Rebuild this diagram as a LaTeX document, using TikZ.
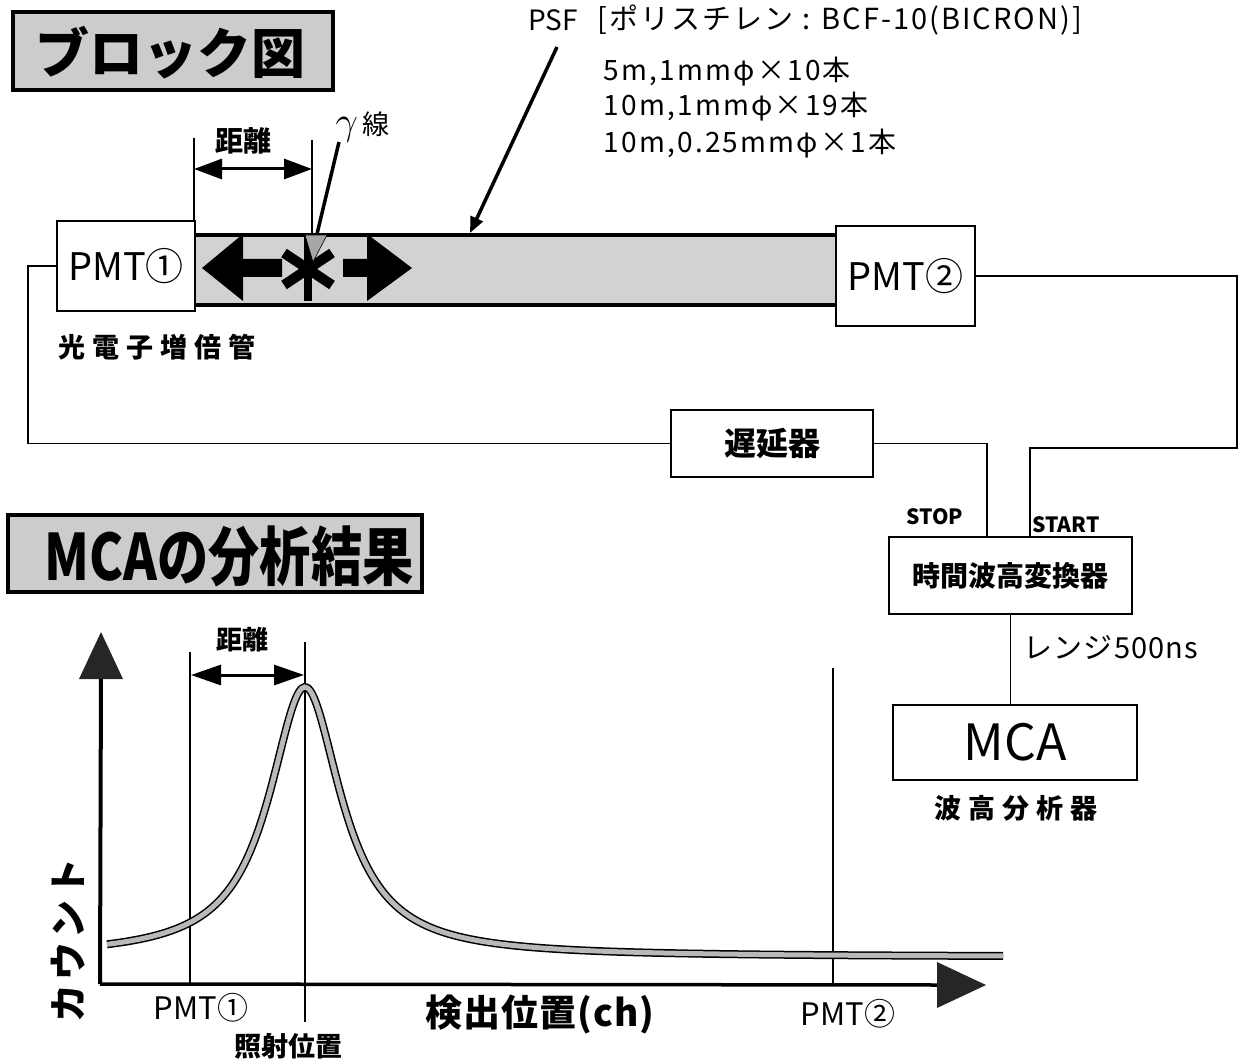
\documentclass[tikz,border=0pt]{standalone}
\usepackage{fontspec}
\setmainfont{Noto Sans CJK JP}
\usepackage{graphicx}
\usetikzlibrary{arrows.meta}
\begin{document}
\begin{tikzpicture}[x=1pt,y=-1pt,
  fs/.style={font=\fontsize{#1}{#1}\selectfont},
  fsb/.style={font=\fontsize{#1}{#1}\selectfont\bfseries},
  title/.style={draw, line width=4pt, fill=gray!40, inner sep=0pt},
  box/.style={draw, line width=2.8pt, fill=white, inner sep=0pt},
  wire/.style={line width=1.8pt},
  thinl/.style={line width=1.4pt},
  dim/.style={line width=3pt, {Triangle[length=28pt,width=20pt]}-{Triangle[length=28pt,width=20pt]}},
  bigarrow/.style={fill=black},
  curveo/.style={line width=8pt, black},
  curvei/.style={line width=5pt, gray!55}
]
\useasboundingbox (0,0) rectangle (1241,1064);

% ---------- titles ----------
\node[title, minimum width=320pt, minimum height=78pt] (t1) at (173,51) {};
\node[fsb=54] (t1t) at (170,53) {ブロック図};
\node[title, minimum width=414pt, minimum height=77pt] (t2) at (215,553.5) {};
\node[fsb=64] (t2t) at (229,556) {\scalebox{0.8}[1]{MCAの分析結果}};

% ---------- fibre ----------
\node[draw, line width=3.5pt, fill=gray!35, minimum width=643pt, minimum height=70pt, inner sep=0pt] (fiber) at (515.5,270) {};

% big arrows and asterisk
\fill[bigarrow] (202,268) -- (243,234) -- (243,259) -- (282,259) -- (282,277) -- (243,277) -- (243,301) -- cycle;
\fill[bigarrow] (412,268) -- (367,234) -- (367,259) -- (343,259) -- (343,277) -- (367,277) -- (367,301) -- cycle;
\draw[line width=8pt] (308,237) -- (308,301);
\draw[line width=10pt] (284,253) -- (332,285);
\draw[line width=10pt] (284,285) -- (332,253);
\fill[gray!70, draw=black, line width=0.6pt] (305,235) -- (327,235) -- (313,262) -- cycle;

% PMT boxes
\node[box, minimum width=138pt, minimum height=90pt, fs=38] (pmt1) at (126,266) {PMT①};
\node[box, minimum width=139pt, minimum height=100pt, fs=38] (pmt2) at (905.5,276) {PMT②};
\node[fsb=27] (pmtlbl) at (157,347) {光\hspace{7pt}電\hspace{7pt}子\hspace{7pt}増\hspace{7pt}倍\hspace{7pt}管};

% distance on fibre
\coordinate (d1a) at (194,138);
\coordinate (d1b) at (194,220);
\coordinate (d2a) at (312,140);
\coordinate (d2b) at (312,235);
\draw[thinl] (d1a) -- (d1b);
\draw[thinl] (d2a) -- (d2b);
\draw[dim] (194,169) -- (312,169);
\node[fsb=28] (dist1) at (243,141) {距離};

% gamma pointer
\node[fs=27, anchor=west] (gam) at (332,127) {\scalebox{1.6}{$\gamma$}\,線};
\coordinate (gtop) at (339,142);
\coordinate (gbot) at (317,234);
\draw[line width=3.5pt] (gtop) -- (gbot);

% PSF
\node[fs=28] (psf) at (553,20) {PSF};
\node[anchor=west, font=\fontsize{29}{29}\selectfont\addfontfeature{LetterSpace=7}] (psfdesc) at (594,20) {[ポリスチレン : BCF-10(BICRON)]};
\node[anchor=west, font=\fontsize{28}{28}\selectfont\addfontfeature{LetterSpace=8}] (l1) at (600,72) {5m,1mmφ×10本};
\node[anchor=west, font=\fontsize{28}{28}\selectfont\addfontfeature{LetterSpace=8}] (l2) at (600,107) {10m,1mmφ×19本};
\node[anchor=west, font=\fontsize{28}{28}\selectfont\addfontfeature{LetterSpace=8}] (l3) at (600,144) {10m,0.25mmφ×1本};
\coordinate (psfs) at (557,47);
\coordinate (psftip) at (470,233);
\draw[line width=3.5pt, -{Triangle[length=16pt,width=13pt]}] (psfs) -- (psftip);

% ---------- electronics ----------
\node[box, minimum width=202pt, minimum height=67pt, fsb=32] (delay) at (772,443.5) {遅延器};
\node[box, minimum width=243pt, minimum height=77pt, fsb=28] (tac) at (1010.5,575.5) {時間波高変換器};
\node[box, minimum width=244pt, minimum height=75pt, fs=50] (mca) at (1015,742.5) {MCA};
\node[fsb=27] (mcalbl) at (1016,808) {波\hspace{7pt}高\hspace{7pt}分\hspace{7pt}析\hspace{7pt}器};
\node[fsb=21] (stop) at (935,517) {STOP};
\node[fsb=21, anchor=west] (start) at (1029,525) {START};
\node[anchor=west, font=\fontsize{29}{29}\selectfont\addfontfeature{LetterSpace=4}] (range) at (1020,647) {レンジ500ns};

\coordinate (lc) at (28,266);
\coordinate (stopin) at (987,537);
\coordinate (rc) at (1237,276);
\coordinate (rc2) at (1237,448);
\coordinate (startc) at (1030,448);
\coordinate (startin) at (1030,537);

\draw[wire] (pmt1.west) -- (lc) |- (delay.west);
\draw[wire] (delay.east) -| (stopin);
\draw[wire] (pmt2.east) -- (rc) -- (rc2) -- (startc) -- (startin);
\draw[wire] (tac.south) -- (tac.south |- mca.north);

% ---------- graph ----------
\coordinate (o) at (100,984);
\coordinate (ytip) at (101,632);
\coordinate (xtip) at (986,985);
\draw[line width=4pt] (o) -- (101,670);
\draw[line width=3.5pt] (o) -- (940,985);
\fill[black!85] (ytip) -- (123,679) -- (79,679) -- cycle;
\fill[black!85] (xtip) -- (937,962) -- (937,1008) -- cycle;

\draw[thinl] (190,652) -- (190,984);
\draw[thinl] (305,642) -- (305,1022);
\draw[thinl] (833,668) -- (833,984);
\draw[line width=3pt, {Triangle[length=30pt,width=20pt]}-{Triangle[length=30pt,width=20pt]}] (191,675) -- (304,675);
\node[fsb=26] (dist2) at (242,640) {距離};

\draw[curveo] plot[domain=107:1003, samples=300, smooth] (\x, {957 - 270/(1+((\x-305)/44)^2)});
\draw[curvei] plot[domain=107:1003, samples=300, smooth] (\x, {957 - 270/(1+((\x-305)/44)^2)});

\node[fs=31] (gp1) at (201,1008) {PMT①};
\node[fs=31] (gp2) at (848,1014) {PMT②};
\node[fsb=27] (irr) at (288,1046) {照射位置};
\node[font=\fontsize{37}{37}\selectfont\bfseries\addfontfeature{LetterSpace=3}] (xlab) at (540,1014) {検出位置(ch)};
\node[fsb=38, rotate=90] (ylab) at (68,940) {カ\hspace{4pt}ウ\hspace{4pt}ン\hspace{4pt}ト};
\end{tikzpicture}
\end{document}
